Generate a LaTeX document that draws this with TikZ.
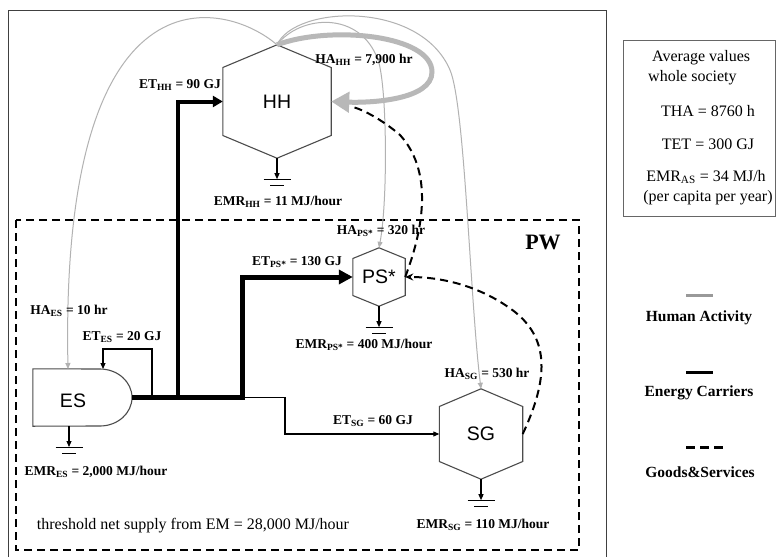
\documentclass[tikz,border=0pt]{standalone}
\usepackage{fontspec}
\setmainfont{Liberation Serif}
\newfontfamily\arialf{Liberation Sans}
\usetikzlibrary{arrows.meta,calc}
\tikzset{
  lbl/.style={font=\fontsize{13.5}{15}\selectfont\bfseries, inner sep=0pt},
  leg/.style={font=\fontsize{16}{18}\selectfont, inner sep=0pt},
  legb/.style={font=\fontsize{15.5}{18}\selectfont\bfseries, inner sep=0pt},
  hexnode/.style={inner sep=0pt, font=\arialf\fontsize{19.5}{22}\selectfont},
  hexline/.style={draw=black!70, line width=1.1pt},
  ecthin/.style={line width=1.1pt, -{Triangle[length=6pt,width=5pt]}},
  ec/.style={line width=5pt},
  ha/.style={draw=black!30, line width=1pt, -{Triangle[length=6pt,width=5pt]}},
  gs/.style={line width=2pt, dash pattern=on 8pt off 5pt},
}
\newcommand\hexshape[2]{%
  \draw[hexline] (#1.north) -- ($(#1.east)+(0,-#2)$) -- ($(#1.east)+(0,#2)$)
    -- (#1.south) -- ($(#1.west)+(0,#2)$) -- ($(#1.west)+(0,-#2)$) -- cycle;}
\newcommand\earthsym[2]{%
  \coordinate (g#1) at ($(#2)+(0,21)$);
  \draw[ecthin] (#2) -- (g#1);
  \draw[line width=1pt] ($(g#1)+(-13.5,0)$) -- ($(g#1)+(13.5,0)$);
  \draw[line width=1pt] ($(g#1)+(-7,6.5)$) -- ($(g#1)+(7,6.5)$);}
\begin{document}
\begin{tikzpicture}[x=1pt,y=-1pt]
\useasboundingbox[fill=white] (0,0) rectangle (776,557);
% frames
\draw[black!75, line width=1pt] (8,557) -- (8,10) -- (606,10) -- (606,557);
\draw[line width=1.5pt, dash pattern=on 8pt off 5pt] (16,220) rectangle (579,550);
\draw[black!60, line width=1pt] (623,40) rectangle (775,216);

% nodes
\node[hexnode, minimum width=108pt, minimum height=113pt] (HH) at (277,101.5) {HH};
\node[hexnode, minimum width=52pt, minimum height=58pt] (PS) at (379,277) {PS*};
\node[hexnode, minimum width=83pt, minimum height=90pt] (SG) at (481,434) {SG};
\node[inner sep=0pt, minimum width=99pt, minimum height=57pt] (ES) at (82.5,397.5) {};
\node[hexnode] (EStext) at (73,401) {ES};
\hexshape{HH}{34}
\hexshape{PS}{18.5}
\hexshape{SG}{27.5}
\draw[hexline] (ES.north west) -- (100,369) .. controls (117.7,369) and (132,381.8) .. (132,397.5)
  .. controls (132,413.2) and (117.7,426) .. (100,426) -- (ES.south west) -- cycle;

% ground symbols
\coordinate (ESout) at (69,426);
\earthsym{HH}{HH.south}
\earthsym{PS}{PS.south}
\earthsym{SG}{SG.south}
\earthsym{ES}{ESout}

% energy carriers
\coordinate (J0) at (152,397.5);
\coordinate (J1) at (178,397.5);
\coordinate (J2) at (242,397.5);
\coordinate (J3) at (285,397.5);
\coordinate (L1) at (152,349);
\coordinate (esin) at (103,369);
\coordinate (esha) at (68,369);
\draw[ecthin] (J2) -- (J3) |- (SG.west);
\draw[ecthin] (J0) -- (L1) -| (esin);
\draw[line width=4pt, -{Triangle[length=10pt,width=11pt]}] (J1) |- (HH.west);
\draw[ec, -{Triangle[length=14pt,width=14pt]}] (ES.east) -- (J2) |- (PS.west);

% human activity
\draw[ha] (HH.north) .. controls (225,0) and (60,-40) .. (esha);
\draw[ha] (HH.north) .. controls (300,15) and (360,10) .. (378,60) .. controls (387,85) and (388,200) .. (PS.north);
\draw[ha] (HH.north) .. controls (295,5) and (420,0) .. (450,70) .. controls (465,105) and (470,300) .. (SG.north);

% goods & services
\draw[gs, shorten >=21pt] (PS.east) .. controls (425,225) and (432,170) .. (400,135) .. controls (385,122) and (365,110) .. (HH.east);
\draw[gs, -{Stealth[length=8pt,width=7pt]}] (SG.east) .. controls (548,380) and (550,340) .. (515,312) .. controls (480,285) and (440,277) .. (PS.east);

\draw[draw=black!28, line width=5pt, -{Triangle[length=18pt,width=20pt]}] (HH.north) .. controls (330,25) and (432,35) .. (432,72) .. controls (432,100) and (370,103) .. (HH.east);

% labels
\node[lbl, anchor=east] (tETHH) at (221,85) {ET\textsubscript{HH} = 90 GJ};
\node[lbl] (tHAHH) at (364,60) {HA\textsubscript{HH} = 7,900 hr};
\node[lbl] (tEMRHH) at (278,202) {EMR\textsubscript{HH} = 11 MJ/hour};
\node[lbl] (tHAPS) at (381,231) {HA\textsubscript{PS*} = 320 hr};
\node[lbl] (tETPS) at (297,262) {ET\textsubscript{PS*} = 130 GJ};
\node[lbl] (tEMRPS) at (364,345) {EMR\textsubscript{PS*} = 400 MJ/hour};
\node[lbl] (tHAES) at (69,311) {HA\textsubscript{ES} = 10 hr};
\node[lbl] (tETES) at (122,337) {ET\textsubscript{ES} = 20 GJ};
\node[lbl] (tEMRES) at (96,472) {EMR\textsubscript{ES} = 2,000 MJ/hour};
\node[leg] (tthr) at (193,526) {threshold net supply from EM = 28,000 MJ/hour};
\node[lbl] (tETSG) at (373,421) {ET\textsubscript{SG} = 60 GJ};
\node[lbl] (tHASG) at (487,374) {HA\textsubscript{SG} = 530 hr};
\node[lbl] (tEMRSG) at (483,525) {EMR\textsubscript{SG} = 110 MJ/hour};
\node[font=\fontsize{22}{24}\selectfont\bfseries, inner sep=0pt] (tPW) at (543,242) {PW};

% legend
\node[leg, anchor=west] (lg1) at (652,58) {Average values};
\node[leg, anchor=west] (lg2) at (648,78) {whole society};
\node[leg] (lg3) at (708,111) {THA = 8760 h};
\node[leg] (lg4) at (708,144) {TET = 300 GJ};
\node[leg] (lg5) at (706,177) {EMR\textsubscript{AS} = 34 MJ/h};
\node[leg] (lg6) at (708,198) {(per capita per year)};
\draw[black!40, line width=3pt] (686,295) -- (713,295);
\node[legb] (lgHA) at (699,318) {Human Activity};
\draw[line width=3pt] (686,372) -- (713,372);
\node[legb] (lgEC) at (699,393) {Energy Carriers};
\draw[line width=3pt, dash pattern=on 9pt off 5pt] (686,447) -- (727,447);
\node[legb] (lgGS) at (700,472) {Goods\&Services};
\end{tikzpicture}
\end{document}
